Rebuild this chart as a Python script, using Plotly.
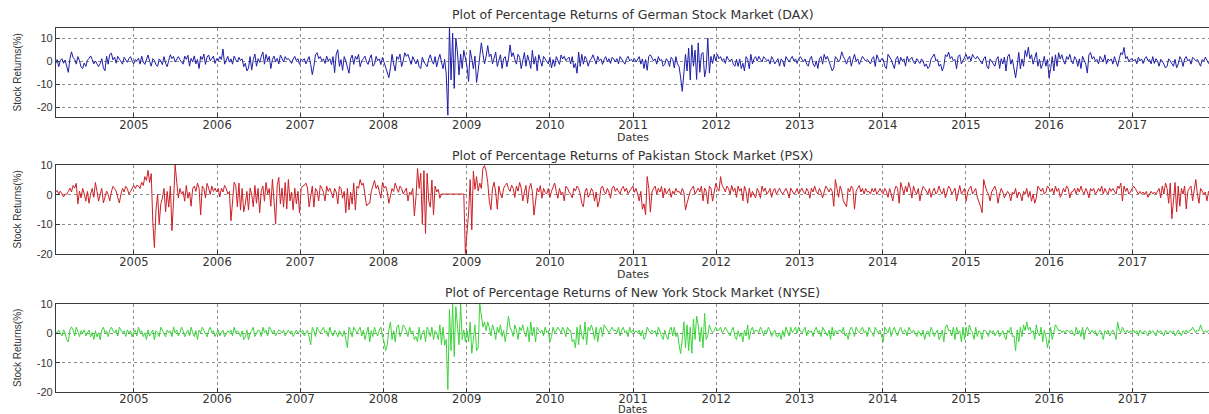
import pandas as pd
import plotly.graph_objects as go

# ---------------- data (weekly % returns) ----------------
start_date = "2004-01-23"

dax_returns = [
    # 2004
    -1.1, 0.8,
    -2.3, 0.4, 1.2, -0.8, 0.6, -1.9, -4.8, 1.1, 4.2, 1.7,
    0.9, -1.2, 2.1, 0.3, -2.4, -3.1, -0.7, -2.2, 0.5, 1.3, 2.4, 0.8, -1.1,
    0.2, -1.4, -2.3, -0.9, 1.2, -2.8, -4.1, 2.3, -1.2, 3.1, 3.6, 0.7, 1.9,
    -0.8, 2.2, 1.1, -0.3, -1.2, 1.8, 0.9, -0.4, 1.3, 2.1, 0.2, -1.1, 0.8,
    # 2005
    0.3, 1.4, -1.2, 2.3, -0.2, -1.3, 0.9, 2.8, 0.1, -2.1, 1.2, 0.4, -1.5,
    -2.2, 1.1, 0.2, -1.4, 2.1, -0.8, -2.3, 0.5, 2.9, 1.2, 2.2, -0.3, 1.1,
    2.1, 0.7, -0.4, -1.2, 2.3, 0.9, 2.7, -2.1, 1.3, -0.2, 2.4, -1.1, 0.8,
    -3.1, 2.2, 0.8, 3.2, -1.3, 1.9, 2.8, 0.2, 1.1, 2.3, -0.9, 1.2, 0.3,
    # 2006
    2.1, 0.8, 5.4, -1.2, 0.9, 2.2, -0.3, 1.1, -1.2, 2.3, 0.7, -0.2, 1.8,
    0.4, 1.1, -2.3, -0.8, -4.2, -2.9, 2.1, -3.8, 0.8, 3.2, -2.1, 1.2, -0.4,
    2.2, 4.1, -1.2, 3.1, 0.3, 2.2, -3.1, 0.9, 2.3, -0.2, 1.3, -1.1, 2.8,
    1.2, -0.2, 2.1, 0.8, 1.3, 0.2, -0.9, 1.1, 2.2, 0.3, 1.2, -1.3, 0.9,
    # 2007
    0.4, 1.2, -1.1, 0.8, 2.1, -1.3, -5.8, -2.1, 2.9, 3.8, 1.2, 2.1, 0.3,
    1.1, -0.9, 2.3, 0.2, 1.2, -1.4, 2.1, -4.9, 3.2, 5.1, -2.2, 0.8, -3.9,
    2.1, 0.2, -3.2, -5.2, 1.1, 2.8, -1.3, 2.2, 0.9, 3.1, -2.3, 0.3, 1.2,
    2.3, -0.2, -1.3, 1.2, 2.9, -2.1, -1.2, 2.2, 0.3, 1.1, -1.4, 1.8, -0.3,
    # 2008
    -2.1, -4.3, -7.1, -2.8, 3.1, -1.2, -4.2, 2.1, 0.9, 3.2, -2.3, 0.2, 3.8,
    2.2, 3.1, 0.8, -1.3, 2.1, 0.2, -1.1, 0.9, -2.3, -3.1, 1.8, -0.2, -1.2,
    -2.3, 1.1, 2.9, 0.2, -1.2, 2.1, -2.4, 0.8, 3.1, -0.3, -3.2, 0.9, -5.8,
    -23.5, 15.2, -8.1, 12.3, -11.8, 10.2, 4.1, -5.9, 3.2, -3.1, 4.8, 1.2, -2.1,
    # 2009
    -8.8, 4.9, 1.2, -3.2, 2.3, -9.2, -4.1, 1.8, 8.1, 3.2, -1.1, 2.2, 6.9,
    2.1, 3.2, -1.1, 1.8, 4.1, -2.2, 0.3, 2.9, -3.1, 1.2, 2.1, -2.3, 1.1,
    7.2, 2.1, 3.8, 0.9, -1.2, 3.1, 1.8, -3.2, 1.1, 3.9, -2.1, 2.8, 0.2,
    -3.1, 4.8, -1.2, 2.1, -4.1, 2.9, 0.8, -2.1, 2.2, 0.9, -0.3, -1.1, 1.8,
    # 2010
    -2.9, 0.8, -2.2, 2.1, 0.2, -1.3, 2.8, 1.1, 2.2, 0.3, 1.2, 1.9, -1.1,
    2.1, -2.8, -0.9, -5.2, 4.1, -2.2, 3.1, -1.2, 2.2, 0.9, -2.1, 0.3, 1.2,
    2.9, 1.1, -1.2, 2.2, 0.3, 1.1, -1.3, 0.8, 2.1, -0.2, 1.2, -0.9, 1.8,
    1.1, -0.2, 1.2, -1.1, 2.1, 0.9, -0.3, -1.2, 1.1, 2.2, 0.2, 0.9, -0.1,
    # 2011
    1.2, -0.3, 0.9, 2.1, -1.2, 1.1, -3.1, 0.8, -3.9, 2.2, 2.9, 1.1, 0.2,
    1.1, -1.2, 2.1, 0.3, 0.9, -2.1, -1.3, 1.2, 0.2, -2.2, 1.8, 0.9, -2.9,
    2.1, -1.1, -2.3, -7.2, -13.1, -5.2, 3.1, -4.2, 5.8, -8.1, 7.2, -2.1, 4.9,
    -7.9, 8.1, -4.8, 3.2, 3.9, -6.8, -3.1, 10.2, -5.1, 2.2, -0.9, 3.1, 0.2,
    # 2012
    3.1, 1.2, 2.1, 0.3, 1.2, -0.9, 2.2, 0.8, 0.2, 1.1, -1.2, -2.1, 0.9,
    -2.2, 1.1, -3.1, -0.8, -4.2, 2.1, 0.9, -3.2, 3.1, -1.1, 1.2, 2.1, 0.2,
    2.2, 0.9, -0.2, 2.1, 1.1, 0.3, 0.8, -1.2, 2.1, 0.9, -1.1, 0.2, 1.2,
    -2.1, 1.1, 0.2, -2.3, 2.1, 0.8, -0.3, 1.2, 2.2, 0.1, 1.1, -0.9, 1.2,
    # 2013
    2.1, 0.8, -0.2, 1.1, -1.2, -2.1, 0.9, 2.2, -1.1, -2.3, 0.2, -3.1, 1.2,
    2.1, -1.2, 3.1, 0.9, 2.2, 0.1, -1.1, -4.1, -2.9, 2.1, 1.2, -0.2, 0.9,
    4.2, 2.1, 0.8, -1.2, 1.1, 2.2, -2.1, 0.9, 3.1, 0.2, 1.1, -1.3, 0.8,
    2.2, 1.1, 0.2, 0.9, -0.2, -1.1, 1.2, 2.1, -2.2, 2.9, 1.1, -0.3, 1.2,
    # 2014
    0.9, -2.1, -3.2, 3.1, 2.2, 0.8, -1.2, -3.1, 1.1, 2.2, -1.3, 1.8, 0.2,
    1.1, -2.1, 2.2, 0.2, 0.9, 1.8, -0.2, -1.1, 1.2, 0.3, -0.9, 1.1, 0.2,
    -2.2, -1.1, -3.1, -2.2, 1.1, 2.1, 3.2, 0.2, 0.9, -2.1, -1.2, -4.1, -2.1,
    2.9, 2.1, 4.1, 1.2, 2.1, 0.2, 0.9, -3.2, 2.2, 2.9, -1.1, 0.3, 1.2,
    # 2015
    3.1, 0.9, 2.2, 0.2, 3.1, 1.8, 1.1, 2.2, 0.9, -0.2, -1.1, 1.2, 2.1,
    -2.1, -3.2, 1.1, 0.2, -1.2, -2.1, 0.9, 2.1, -3.1, 1.2, -1.1, 1.9, -4.2,
    2.1, 3.1, -1.2, 0.9, -3.1, -7.2, -2.1, 3.9, -3.2, 1.1, -2.1, 4.8, 2.1,
    6.2, 1.1, 2.9, -1.2, 2.1, 3.9, -2.1, 0.9, -3.1, -1.2, 2.2, -2.1, 0.8,
    # 2016
    -7.2, -3.1, 2.1, -4.2, 2.9, -2.1, 3.8, 1.1, 2.9, 0.2, -1.2, 2.1, 0.9,
    3.1, 0.2, -1.1, 2.1, 0.9, -2.2, 1.1, -3.1, 2.2, 0.1, -1.2, -5.1, 2.9,
    3.9, 1.1, 2.1, 0.2, 0.9, -1.1, 2.2, 0.8, -0.2, 2.9, -1.2, 1.1, 0.2,
    1.1, -1.2, 2.1, 0.3, -2.2, 1.1, 3.8, 2.9, 6.1, 1.2, 2.1, -0.2, 0.9,
    # 2017
    1.1, 0.2, 0.9, -1.1, 1.8, 0.2, 1.1, -0.9, 1.2, 2.1, 0.3, 0.8, -1.1,
    2.1, -0.9, 1.2, 0.2, -2.1, 0.9, 0.1, -1.2, -2.9, -2.1, 1.1, 0.2, -0.9,
    -2.1, 0.9, -2.8, -1.1, 2.1, 0.8, -2.2, 1.1, 2.1, 0.2, 0.9, -1.2, 1.8,
    1.1, 0.2, 0.9, -1.1, -2.1, 0.8, 0.1, 1.9, 0.2, -0.9, 0.3,
]

psx_returns = [
    # 2004
    0.8, 1.4, 0.2,
    1.2, 0.3, -0.8, 0.2, 0.1, 1.1, 2.2, 0.9, 3.1, 2.2,
    3.8, -3.1, 1.2, -1.1, 2.1, 0.2, -2.2, 1.1, -2.9, 0.2, 2.1, -0.9, 4.1,
    1.1, -2.2, 0.2, 2.1, -2.8, -1.1, 1.2, 0.1, -2.1, 0.9, 2.8, 2.1, 1.2,
    -0.9, -2.8, 0.2, 2.1, 0.9, 2.8, 2.1, 0.2, 1.1, 2.2, 3.1, 2.1, 3.2,
    # 2005
    2.9, 2.1, 4.2, 3.1, 6.1, 4.8, 8.2, 4.1, 7.1, -9.2, -17.8, -5.1, 0.2,
    -9.8, -3.1, -1.2, 2.1, -5.8, 1.1, -4.2, 2.9, -12.1, -2.2, 10.1, 4.2, -1.1,
    2.1, 0.2, 1.1, -2.2, 3.1, -1.2, 0.9, -3.9, 2.1, 2.9, 1.1, 3.9, 2.2,
    -6.8, 2.9, 2.1, -1.1, 3.8, 2.2, 0.1, 2.9, 1.1, 2.2, 0.9, 2.1, -0.8,
    # 2006
    2.2, 0.9, 3.1, 2.1, 0.2, 1.1, -8.8, -2.1, 4.2, 3.1, -4.1, 3.9, -5.2,
    2.1, -5.8, -3.1, 1.1, -5.2, 2.2, 0.2, -4.1, 3.1, -2.9, 2.1, -6.1, 1.2,
    2.9, -2.2, 4.1, 0.2, 2.1, -3.9, 5.2, -2.1, -9.9, 3.1, 5.8, -3.1, 2.2,
    -4.2, 4.1, -4.8, 5.1, -2.1, 0.9, -5.2, 2.2, -3.1, 1.1, -6.2, 2.1, 2.9,
    # 2007
    3.1, 3.9, 2.2, -4.1, -0.9, 2.9, -4.2, 2.1, 1.2, -2.1, 3.1, 2.2, 0.8,
    -2.1, 2.9, 1.1, 2.2, 0.2, -1.1, 2.1, 0.9, -3.1, 2.8, 2.1, -1.2, 1.1,
    -6.1, 2.1, -5.1, 0.9, -3.2, 3.9, -5.2, 2.9, 2.1, 5.1, 3.2, 3.9, -1.1,
    -3.8, -3.1, -2.9, 1.1, 2.9, 4.8, 2.1, 3.2, 1.1, -1.2, 4.1, 2.2, 2.9,
    # 2008
    0.9, -2.9, 0.2, 2.1, 1.1, 3.9, 2.2, 0.8, 2.9, 2.1, 0.2, 1.1, 2.2,
    -2.1, 0.9, 0.2, 2.1, -7.1, -0.9, 8.8, 2.1, 7.2, -9.8, 8.1, -13.1, 7.2,
    -2.1, -4.2, 4.9, -6.8, 2.9, 0.9, 1.8, -1.2, 0.2, 0.2, 0.2, 0.2, 0.2,
    0.2, 0.2, 0.2, 0.2, 0.2, 0.2, 0.2, 0.2, 0.2, 0.2, -19.8, -14.1, -6.2, 5.1,
    # 2009
    -11.8, 7.9, 1.8, 6.1, 1.2, 3.9, 2.1, 8.9, 9.8, 7.9, 4.1, -2.1, -5.1,
    2.1, 4.2, 0.9, -4.9, 2.9, 0.2, -1.1, 2.2, 3.1, 3.9, 2.1, 1.1, 3.2,
    2.1, -0.9, 2.9, 1.2, 4.1, 2.2, -2.1, 0.9, 3.1, -2.9, 2.1, 3.8, 1.1,
    -6.9, -2.1, 2.2, 0.9, 3.1, -1.2, 2.1, 0.8, 0.2, 2.1, -0.9, 1.2, 2.9,
    # 2010
    3.9, 1.1, -1.2, 2.1, 0.2, 0.9, -2.1, 2.9, 2.2, 0.9, 0.2, -1.1, 2.1,
    1.2, 2.9, 2.1, 0.2, -2.9, -4.1, 1.1, 2.2, -0.9, 0.2, 2.1, 1.1, -2.2,
    0.9, -4.2, -2.1, 2.2, 2.9, 1.1, 0.2, 2.1, 0.9, -1.2, 2.2, 2.9, 1.1,
    2.1, 0.9, 0.2, 2.1, 2.8, 1.1, 2.2, 0.3, 1.2, 2.1, 2.9, 0.8, 2.1,
    # 2011
    0.2, -2.1, 1.1, -4.9, -3.1, -6.8, 6.1, 2.1, -5.9, 0.9, 2.1, 2.9, 0.2,
    2.1, 0.9, 2.8, -1.1, 2.2, 0.2, 1.1, 2.1, -0.9, 1.2, 0.2, 2.1, 0.9,
    1.1, 0.2, 2.1, 0.9, -5.2, -2.9, -1.1, 1.2, 2.1, 2.9, 0.2, 1.1, 2.2,
    0.9, 2.9, -2.1, 2.2, 1.1, -3.1, 2.9, 2.1, -2.2, 0.9, 3.8, 2.1, 1.2,
    # 2012
    6.1, 3.1, 2.2, 0.9, 2.9, 2.1, 0.2, 3.1, 1.1, 2.2, -0.9, 2.9, 1.2,
    2.1, -2.1, 2.9, 1.1, -2.9, 2.2, -0.9, 1.1, 0.2, -1.1, 2.1, 0.9, -1.2,
    2.9, 1.1, 2.2, 0.2, 0.9, 2.1, -0.9, 1.2, 2.1, 0.2, 1.1, 2.2, 0.9,
    0.2, 1.1, 2.1, 0.9, -1.1, 2.2, 1.1, 0.2, 0.9, 2.1, 0.2, 1.1, 2.2,
    # 2013
    0.9, 0.2, 2.1, 1.1, -1.2, 2.2, 0.9, 2.9, 1.1, 0.2, 2.1, 0.9, -1.1,
    1.1, 2.9, 2.1, 0.9, 2.2, 1.1, -3.9, 5.1, 2.1, -0.9, 2.9, 1.1, -2.1,
    -3.1, -4.1, 2.1, 0.9, 2.9, 2.1, -4.9, 1.1, 2.2, 3.1, 0.9, 2.1, 0.2,
    2.1, 0.9, 1.1, 0.2, 2.1, 0.9, 2.2, 0.1, 1.1, 2.1, 0.9, 0.2, 2.1,
    # 2014
    1.1, -0.9, 2.1, 0.2, -2.1, 1.1, 2.9, 2.1, -2.9, 4.1, 2.2, 0.2, 2.9,
    0.9, 4.1, 2.1, -1.1, 2.9, 1.1, 0.2, 2.1, -2.1, 0.9, 2.8, 2.1, 1.1,
    0.2, 2.1, -0.9, 1.1, 2.2, 0.2, 0.9, 2.9, 1.1, 0.2, 2.1, -1.1, 0.9,
    2.9, 2.1, 0.2, 1.1, 2.2, -2.1, 0.9, 3.1, 0.2, 1.1, 2.1, -2.2, 0.9,
    # 2015
    2.1, 2.9, 0.2, 1.1, 2.1, -0.9, -2.1, -3.9, -6.1, 5.1, 2.9, 1.1, 0.2,
    -2.1, 0.9, 2.1, 2.9, 1.1, -2.9, 0.2, 2.1, 0.9, -1.1, 0.2, 1.1, 0.2,
    -2.1, 0.9, 0.2, 2.1, -1.1, 0.9, 0.2, -2.1, 1.1, 0.2, 2.1, -0.9, 1.1,
    -2.2, 0.2, -2.9, -1.1, 2.9, 2.1, 1.1, 2.2, 0.2, 0.9, 2.9, 2.1, 1.1,
    # 2016
    2.1, 0.2, 2.9, 1.1, 2.1, -0.9, 0.2, 2.1, 0.9, 2.9, 2.1, -1.1, 0.9,
    1.1, 2.1, 0.2, 2.2, 0.9, 2.9, 1.1, 0.2, 2.1, 0.9, -1.1, 2.1, 1.2,
    2.1, 0.2, 0.9, 2.1, 1.1, 2.9, 0.2, 2.1, 0.9, 0.2, 2.2, 1.1, 2.1,
    0.9, 0.2, 2.9, 2.1, 3.9, -2.1, 2.9, 1.1, 2.2, 0.2, 0.9, 2.1, 2.9,
    # 2017
    2.1, 0.9, 0.2, 1.1, 0.2, 0.9, 0.1, 1.1, -0.9, 0.2, 1.1, 0.2, 0.9,
    0.2, 1.1, 2.1, -1.1, 2.9, 0.2, 3.9, 2.1, -2.9, 3.9, -8.1, -2.1, 4.1,
    -5.8, 2.9, -3.9, 2.1, 0.2, 2.9, -4.8, 1.1, 2.2, 2.9, -2.1, 1.1, 5.1,
    0.2, -2.9, 2.1, 1.1, 0.2, 0.9, -2.1, 1.1, 0.2, -1.1, 0.3,
]

nyse_returns = [
    # 2004
    0.6,
    0.2, 1.1, 0.2, -0.9, 1.2, 0.1, -2.1, -2.9, 1.1, 2.2,
    1.1, -0.9, 2.1, 0.2, -1.1, 0.9, 0.1, 1.2, -0.9, 0.2, 1.1, -1.2, 0.3,
    -2.1, 0.9, -1.2, 0.2, -2.2, 1.1, 2.1, 0.2, 0.9, -1.1, 1.2, 2.1, 0.9,
    0.1, 1.2, -0.9, 2.1, 1.1, 0.2, 0.9, -1.1, 1.2, 0.1, 0.9, -1.2, 0.2,
    # 2005
    1.1, -0.9, 2.1, 0.2, 0.9, -1.1, 0.2, -2.1, 1.2, -0.9, 0.1, 1.1, -2.2,
    0.9, 0.2, -1.1, 2.1, 0.9, 0.1, -1.2, 1.1, 0.2, 0.9, -1.1, 2.2, 0.1,
    1.1, -0.9, 0.2, 2.1, 0.9, -1.2, 0.1, 1.1, -0.9, 2.1, 0.2, -1.1, 0.9,
    -2.1, 1.1, 0.2, 2.1, 0.9, 0.1, -1.2, 1.1, 2.1, 0.2, 0.9, -1.1, 0.2,
    # 2006
    1.1, -0.9, 0.2, 1.1, -1.2, 0.1, 0.9, 0.2, 1.1, -0.9, 2.1, 0.1, 0.9,
    0.2, -1.1, 0.9, -2.1, -1.2, 1.1, -2.2, 0.1, 0.9, 2.1, -1.1, 0.2, 1.1,
    0.9, -1.1, 2.1, 0.2, 1.1, -0.9, 2.2, 0.9, 0.1, 1.1, -0.9, 0.2, 1.1,
    0.9, 0.1, 1.1, -0.9, 0.2, 1.1, 0.1, 0.9, -1.1, 0.2, 1.1, 0.1, 0.9,
    # 2007
    0.2, 1.1, -0.9, 0.1, 1.1, -1.2, -3.9, 2.1, 0.9, -1.1, 2.1, 0.9, 0.1,
    1.1, 2.1, 0.2, 0.9, -1.1, 2.1, 0.1, -0.9, 1.1, 0.2, -1.2, 0.9, 0.1,
    -1.1, 0.9, -2.1, -4.9, 2.1, 0.9, -1.2, 2.1, 0.9, 0.1, 1.1, 2.1, -0.9,
    1.1, -2.1, 0.2, 2.1, -2.9, 0.9, -1.1, 2.1, 0.2, -0.9, 1.1, 2.1, -1.1,
    # 2008
    -2.9, -5.9, -3.9, 1.1, 3.9, -2.1, 0.9, -2.9, 2.1, 2.9, -1.1, 0.2, 2.9,
    2.1, 0.9, -1.1, 2.1, 0.2, 0.9, -2.1, -1.1, -2.9, 2.1, -2.2, 0.2, 1.1,
    -2.9, 2.1, 0.9, -1.1, 2.1, -2.2, 0.9, 0.2, -2.1, 2.9, -3.9, 2.1, -4.1,
    -2.1, -19.2, 8.1, -5.9, 9.9, -7.9, 9.1, 2.1, -3.9, 10.2, -2.1, 1.1, -2.9,
    # 2009
    1.1, -2.9, 3.9, -6.8, -2.1, 2.9, -5.9, -4.9, 10.1, 4.9, 2.1, 3.9, 0.9,
    3.9, 2.1, -0.9, 2.9, 1.1, -2.1, 2.1, 0.2, 2.9, -1.1, 0.9, -2.9, 1.1,
    5.9, 2.1, 0.9, -1.1, 2.9, 1.1, -2.1, 2.1, 0.9, 2.9, 0.2, -1.1, 2.1,
    -2.9, 3.9, -0.9, 2.1, -2.9, 2.1, 0.9, 0.2, 1.1, -0.9, 2.1, 0.2, 0.9,
    # 2010
    -2.9, -1.1, 2.1, 0.2, 0.9, 2.1, 1.1, 0.2, 2.1, 0.9, -1.1, 2.1, 0.9,
    1.1, -2.9, -2.1, -4.9, 2.1, -3.9, 2.9, -0.9, -2.1, 3.9, -3.9, 2.1, 0.9,
    2.9, 1.1, -2.1, 2.1, -2.9, 0.9, 2.1, -1.1, 2.9, 2.1, 0.9, 0.2, 1.1,
    2.1, 0.9, 1.1, 0.2, 2.1, -0.9, 1.1, 2.1, 0.2, 0.9, -1.1, 2.1, 0.2,
    # 2011
    1.1, 0.2, 0.9, 0.1, 1.1, -0.9, 1.1, -2.1, -1.1, 2.1, 0.9, 0.2, 1.1,
    0.2, 0.9, -1.1, 2.1, 0.2, -0.9, -2.1, 1.1, -0.9, -2.1, 1.1, 2.1, -0.9,
    2.1, -1.1, 0.2, -3.9, -6.9, -2.1, 3.9, -4.9, 2.9, -5.9, 2.1, -6.8, 4.9,
    -2.1, 5.9, 2.9, -2.9, 2.1, -4.9, 6.8, -2.1, -0.9, 2.9, 1.1, 0.2, 0.9,
    # 2012
    2.1, 0.9, 1.1, 2.1, 0.2, 0.9, 2.1, 1.1, 0.2, -0.9, 1.1, 2.1, -1.1,
    -2.1, 0.9, -1.1, 0.2, -2.9, 1.1, -0.9, 2.9, -2.1, 0.9, 2.1, 0.2, 1.1,
    0.9, 0.2, 2.1, 1.1, -0.9, 1.1, 0.2, 2.1, 0.9, -1.1, 0.2, 1.1, -0.9,
    -1.1, 0.2, -2.1, 0.9, -1.1, 2.1, 0.9, -0.9, 2.1, 0.2, 1.1, 2.1, 0.1,
    # 2013
    2.1, 0.9, 0.2, 1.1, 2.1, -0.9, 1.1, 0.2, 0.9, -1.1, 1.1, 2.1, 0.2,
    0.9, -1.1, 2.1, 1.1, 0.2, -0.9, 1.1, -2.1, 2.1, -0.9, 1.1, 0.2, 0.9,
    1.1, 0.2, 2.1, -0.9, 0.1, -2.1, 1.1, 2.1, 0.9, -1.1, 2.1, 0.9, 0.2,
    1.1, 2.1, 0.2, 0.9, -1.1, 2.1, 0.9, 0.2, -1.1, 2.1, 0.9, 0.1, 1.1,
    # 2014
    -0.9, -2.9, 2.1, 0.9, 0.2, 2.1, -1.1, 0.9, 2.1, 0.2, -0.9, 1.1, 2.1,
    0.2, 0.9, 1.1, -0.9, 2.1, 0.9, 0.1, 1.1, 0.2, -1.1, 0.9, 0.1, -0.9,
    1.1, -2.1, 0.2, 0.9, -1.1, 2.1, 0.9, -1.1, 0.2, 1.1, -2.1, -0.9, 1.1,
    -2.9, 2.1, 2.9, 0.9, 1.1, -0.9, 2.1, -2.1, 2.1, 0.2, 0.9, -2.9, 2.1,
    # 2015
    -2.1, 2.1, -0.9, 2.9, 1.1, 0.2, -2.1, 2.1, -1.1, 0.9, 0.2, -2.1, 1.1,
    0.9, 0.2, -1.1, 1.1, 0.1, 0.9, -0.9, 0.2, 1.1, -1.1, 0.1, 0.9, -0.9,
    -2.1, 1.1, 0.2, 2.1, -1.1, -0.9, -5.9, 1.1, -2.9, 2.1, -1.1, 2.9, 0.9,
    3.9, 1.1, 2.1, 0.2, 0.9, -2.1, 2.9, 0.1, -0.9, 2.1, -2.9, 1.1, -1.1,
    # 2016
    -4.9, -2.1, 2.1, -2.1, 0.9, 2.9, 2.1, 0.9, 1.1, 0.2, 0.9, 0.1, 1.1,
    0.9, 0.2, 1.1, 0.1, -0.9, 2.1, 0.2, 0.9, -1.1, 2.1, -2.1, 1.1, 2.1,
    0.9, 0.2, 1.1, 0.1, 0.9, -0.9, 0.2, 1.1, 0.1, -2.1, 0.9, 0.2, 1.1,
    -0.9, 0.2, 1.1, 0.1, -2.1, 3.9, 1.1, 0.2, 2.1, 0.9, 0.2, 1.1, 0.1,
    # 2017
    0.9, 0.2, 1.1, 0.1, 0.9, -0.9, 1.1, 0.2, 0.1, 0.9, 0.2, -0.9, 1.1,
    0.2, 0.9, 0.1, -0.9, 1.1, 0.2, 0.9, 0.1, -0.9, 1.1, 0.2, 0.1, 0.9,
    0.2, 0.9, -0.9, 0.1, 1.1, 0.2, -0.9, 0.9, 0.2, 1.1, 0.1, 0.9, 1.1,
    2.1, 0.9, 0.2, 1.1, 0.9, 2.9, 1.1, 0.2, 0.9, 0.3, 1.1,
]

year_ticks = [f"{y}-01-01" for y in range(2005, 2018)]
year_labels = [str(y) for y in range(2005, 2018)]
y_ticks = [-20, -10, 0, 10]
panel_titles = [
    "Plot of Percentage Returns of German Stock Market (DAX)",
    "Plot of Percentage Returns of Pakistan Stock Market (PSX)",
    "Plot of Percentage Returns of New York Stock Market (NYSE)",
]
series_list = [dax_returns, psx_returns, nyse_returns]
line_colors = ["#1e1ea8", "#cc1f26", "#3ad43a"]
y_ranges = [[-24.3, 14.6], [-20, 10], [-20, 10]]

# ---------------- layout geometry (pixels) ----------------
W, H = 1209, 414
left_px = 56
panel_px = [(28, 117), (165, 254), (304, 392)]   # top, bottom
title_px = [14, 155, 292]
xlabel_px = [137, 274, 409.5]
xlabel_size = [11, 11, 10]
tick_standoff = [-3, -3, -4]

def py(p):
    return 1 - p / H

x_range = ["2004-01-25", "2017-12-03"]

fig = go.Figure()
for i, (vals, col) in enumerate(zip(series_list, line_colors)):
    dates = pd.date_range(start_date, periods=len(vals), freq="7D")
    fig.add_trace(go.Scatter(
        x=dates, y=vals, mode="lines",
        line=dict(color=col, width=1),
        xaxis=f"x{i+1 if i else ''}", yaxis=f"y{i+1 if i else ''}",
        showlegend=False, hoverinfo="x+y",
    ))

axis_common = dict(
    showline=True, mirror=True, linecolor="#3a3a3a", linewidth=1.3,
    showgrid=True, gridcolor="#8a8a8a", griddash="dot", gridwidth=1,
    ticks="inside", ticklen=4, tickcolor="#3a3a3a", zeroline=False,
    automargin=False,
)

layout = dict(
    template="none",
    width=W, height=H,
    margin=dict(l=0, r=0, t=0, b=0, pad=0, autoexpand=False),
    paper_bgcolor="white", plot_bgcolor="white",
    showlegend=False,
    annotations=[],
)
for i in range(3):
    sfx = str(i + 1) if i else ""
    top, bot = panel_px[i]
    layout[f"xaxis{sfx}"] = dict(
        axis_common, domain=[left_px / W, 1], range=x_range, type="date",
        tickvals=year_ticks, ticktext=year_labels,
        tickfont=dict(family="DejaVu Sans", size=11.5, color="#333333"),
        ticklabelstandoff=tick_standoff[i],
        anchor=f"y{sfx}",
    )
    layout[f"yaxis{sfx}"] = dict(
        axis_common, domain=[py(bot), py(top)], range=y_ranges[i],
        tickvals=y_ticks, ticktext=[str(v) for v in y_ticks],
        tickfont=dict(family="Liberation Sans, Arial", size=11, color="#333333"),
        anchor=f"x{sfx}",
    )
    cx = (left_px + W) / 2 / W
    layout["annotations"] += [
        dict(text=panel_titles[i], x=cx, y=py(title_px[i]), xref="paper", yref="paper",
             showarrow=False, xanchor="center", yanchor="middle",
             font=dict(family="DejaVu Sans", size=12.5, color="#333333")),
        dict(text="Dates", x=cx, y=py(xlabel_px[i]), xref="paper", yref="paper",
             showarrow=False, xanchor="center", yanchor="middle",
             font=dict(family="DejaVu Sans", size=xlabel_size[i], color="#333333")),
        dict(text="Stock Returns(%)", x=17 / W, y=py((top + bot) / 2),
             xref="paper", yref="paper", showarrow=False, textangle=-90,
             xanchor="center", yanchor="middle",
             font=dict(family="Liberation Sans, Arial", size=10, color="#333333")),
    ]

fig.update_layout(**layout)
fig.write_html(
    "out.html",
    config={"displayModeBar": False},
    post_script="document.body.style.margin='0';document.body.style.overflow='hidden';",
)
